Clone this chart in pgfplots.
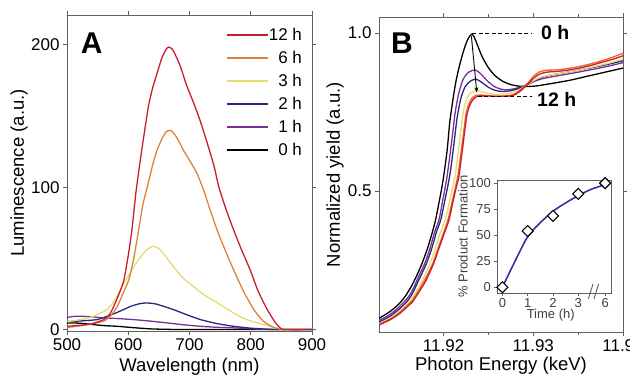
\documentclass[border=0pt]{standalone}
\usepackage{fontspec}
\setmainfont{Liberation Sans}
\usepackage{pgfplots}
\pgfplotsset{compat=1.18}
\usetikzlibrary{arrows.meta}
\definecolor{c12}{RGB}{200,30,45}
\definecolor{c6}{RGB}{218,132,58}
\definecolor{c3}{RGB}{228,220,110}
\definecolor{c2}{RGB}{40,40,125}
\definecolor{c1}{RGB}{125,45,150}
\definecolor{c6b}{RGB}{238,95,40}
\definecolor{cfit}{RGB}{50,50,170}
\definecolor{axgray}{RGB}{95,95,95}
\pgfplotsset{
  every axis/.append style={
    scale only axis,
    tick align=outside,
    axis line style={axgray, line width=0.8pt},
    every tick/.style={axgray, line width=0.8pt},
    major tick length=4pt,
    minor tick length=3pt,
    /pgf/number format/assume math mode=true,
  },
}
\begin{document}
\begin{tikzpicture}[x=1pt,y=1pt]
\useasboundingbox (0,0) rectangle (630,376);
% ---------------- Panel A ----------------
\begin{axis}[
  at={(67pt,45pt)}, anchor=south west, width=245pt, height=316pt,
  xmin=500, xmax=900, ymin=-1, ymax=221,
  xtick={500,600,700,800,900}, ytick={0,100,200},
  tick label style={font=\fontsize{17}{20}\selectfont},
  label style={font=\fontsize{18.5}{22}\selectfont},
  xlabel={Wavelength (nm)}, ylabel={Luminescence (a.u.)},
  xlabel style={at={(axis description cs:0.5,-0.114)}, anchor=center},
  ylabel style={at={(axis description cs:-0.196,0.5)}, anchor=center},
  legend style={at={(axis description cs:0.961,0.958)}, anchor=north east,
    draw=none, fill=none, inner sep=0pt, outer sep=0pt,
    font=\fontsize{17}{20}\selectfont, row sep=9.8pt, column sep=0pt,
    nodes={inner sep=0.5pt, text height=12.2pt, text depth=0pt}},
  legend cell align=right, reverse legend,
  legend image code/.code={\draw[#1, line width=1.4pt] (0pt,0pt) -- (41pt,0pt);},
  every axis plot/.append style={line width=1.3pt, smooth, tension=0.3},
]
\addplot[black] coordinates {(500,4.6)(520,4.5)(543,3.5)(560,2.8)(582,2.3)(610,1.3)(636,0.5)(660,0.2)(700,0)(900,0)};
\addlegendentry{0 h}
\addplot[c1] coordinates {(500,8.5)(510,9.2)(522,9.4)(540,9)(555,8.4)(580,7.8)(609,7)(635,6)(663,4.7)(690,3.4)(718,2.3)(745,1.6)(772,1.2)(800,0.6)(830,0.1)(850,0)(900,0)};
\addlegendentry{1 h}
\addplot[c2] coordinates {(500,5.6)(520,6)(549,7)(570,10)(587,13)(605,16.5)(620,18.3)(631,18.7)(645,18)(660,16)(674,14)(695,10.5)(718,7)(745,4.2)(772,2.3)(800,1)(830,0.2)(850,0)(900,0)};
\addlegendentry{2 h}
\addplot[c3] coordinates {(500,5.6)(515,6.5)(533,8)(550,10.5)(565,14)(577,20)(587,28)(598,36)(609,44)(620,51)(630,56)(640,58.5)(650,57)(662,51)(674,44)(690,36)(707,30)(725,24)(745,19)(765,13.5)(783,9)(800,6)(821,3.5)(840,1.2)(855,0.2)(870,0)(900,0)};
\addlegendentry{3 h}
\addplot[c6] coordinates {(500,1.5)(520,2.5)(540,4)(560,6)(570,9)(582,16)(590,24)(601,35)(609,50)(617,70)(624,88)(631,100)(640,116)(647,126)(655,134)(662,139)(669,140)(676,137)(683,132)(690,126)(700,119)(712,110)(723,98)(733,85)(745,70)(758,56)(772,42)(788,27)(805,14)(820,6)(835,2)(848,0.3)(860,0)(900,0)};
\addlegendentry{6 h}
\addplot[c12] coordinates {(500,2.3)(520,3)(540,4)(560,7)(570,11)(576,16)(585,25)(593,35)(600,52)(606,70)(613,98)(622,126)(633,157)(640,170)(647,180)(655,191)(662,197)(666,198.5)(672,197)(678,192)(685,185)(695,172)(707,159)(718,146)(729,131)(740,115)(748,100)(760,84)(772,70)(785,56)(799,42)(812,27)(827,14)(840,5)(850,0.5)(860,0)(900,0)};
\addlegendentry{12 h}
\end{axis}
% ---------------- Panel B ----------------
\begin{axis}[
  at={(379pt,44pt)}, anchor=south west, width=244pt, height=315pt,
  xmin=11.9128, xmax=11.9400, ymin=0.0538, ymax=1.0506,
  xtick={11.92,11.93,11.94}, xticklabels={11.92,11.93,11.94},
  minor x tick num=1,
  ytick={0.5,1.0}, yticklabels={0.5,1.0},
  scaled x ticks=false,
  tick label style={font=\fontsize{17}{20}\selectfont},
  label style={font=\fontsize{18.5}{22}\selectfont},
  xlabel={Photon Energy (keV)}, ylabel={Normalized yield (a.u.)},
  xlabel style={at={(axis description cs:0.5,-0.108)}, anchor=center},
  ylabel style={at={(axis description cs:-0.180,0.5)}, anchor=center},
  every axis plot/.append style={line width=1.3pt, smooth, tension=0.45},
]
\addplot[black] coordinates {(11.9128,0.097)(11.9140,0.118)(11.9150,0.142)(11.9157,0.166)(11.9164,0.198)(11.9170,0.232)(11.9176,0.271)(11.9182,0.318)(11.9187,0.365)(11.9191,0.408)(11.9195,0.465)(11.9198,0.51)(11.9200,0.545)(11.9204,0.63)(11.9207,0.72)(11.9211,0.80)(11.9214,0.85)(11.9218,0.90)(11.9223,0.95)(11.9227,0.98)(11.9231,0.996)(11.9234,0.988)(11.9238,0.96)(11.9243,0.925)(11.9250,0.89)(11.9257,0.866)(11.9266,0.847)(11.9276,0.836)(11.9287,0.831)(11.9302,0.832)(11.9320,0.840)(11.9340,0.850)(11.9360,0.863)(11.9380,0.876)(11.9400,0.889)};
\addplot[c1] coordinates {(11.9128,0.090)(11.9140,0.109)(11.9150,0.132)(11.9160,0.162)(11.9166,0.190)(11.9172,0.228)(11.9179,0.271)(11.9185,0.32)(11.9190,0.37)(11.9195,0.41)(11.9199,0.47)(11.9203,0.53)(11.9206,0.59)(11.9210,0.68)(11.9213,0.75)(11.9217,0.81)(11.9222,0.855)(11.9228,0.876)(11.9235,0.883)(11.9241,0.872)(11.9249,0.848)(11.9257,0.830)(11.9266,0.821)(11.9276,0.822)(11.9287,0.83)(11.9297,0.842)(11.9307,0.853)(11.9318,0.86)(11.9330,0.866)(11.9350,0.876)(11.9370,0.887)(11.9385,0.896)(11.9400,0.906)};
\addplot[c2] coordinates {(11.9128,0.085)(11.9140,0.103)(11.9150,0.125)(11.9160,0.153)(11.9166,0.180)(11.9173,0.222)(11.9181,0.271)(11.9187,0.32)(11.9192,0.37)(11.9197,0.41)(11.9201,0.465)(11.9205,0.52)(11.9208,0.57)(11.9212,0.66)(11.9215,0.73)(11.9219,0.79)(11.9224,0.83)(11.9230,0.848)(11.9236,0.854)(11.9242,0.845)(11.9250,0.828)(11.9258,0.818)(11.9266,0.815)(11.9276,0.818)(11.9287,0.828)(11.9297,0.842)(11.9307,0.857)(11.9318,0.866)(11.9330,0.872)(11.9350,0.882)(11.9370,0.893)(11.9385,0.902)(11.9400,0.912)};
\addplot[c3] coordinates {(11.9128,0.080)(11.9140,0.097)(11.9150,0.117)(11.9160,0.145)(11.9168,0.175)(11.9176,0.215)(11.9185,0.271)(11.9191,0.32)(11.9196,0.365)(11.9202,0.41)(11.9206,0.46)(11.9210,0.51)(11.9213,0.55)(11.9217,0.64)(11.9220,0.71)(11.9223,0.765)(11.9227,0.80)(11.9232,0.814)(11.9238,0.818)(11.9245,0.812)(11.9255,0.806)(11.9265,0.806)(11.9275,0.81)(11.9285,0.822)(11.9295,0.84)(11.9305,0.856)(11.9315,0.865)(11.9330,0.872)(11.9350,0.882)(11.9370,0.895)(11.9385,0.905)(11.9400,0.918)};
\addplot[c6b] coordinates {(11.9128,0.078)(11.9140,0.094)(11.9150,0.113)(11.9160,0.139)(11.9165,0.153)(11.9172,0.184)(11.9180,0.224)(11.9188,0.271)(11.9194,0.32)(11.9199,0.36)(11.9205,0.41)(11.9209,0.46)(11.9213,0.51)(11.9216,0.55)(11.9220,0.635)(11.9223,0.70)(11.9225,0.745)(11.9228,0.775)(11.9232,0.795)(11.9237,0.803)(11.9245,0.803)(11.9255,0.80)(11.9265,0.80)(11.9275,0.803)(11.9281,0.81)(11.9287,0.823)(11.9294,0.842)(11.9300,0.862)(11.9307,0.877)(11.9315,0.882)(11.9325,0.883)(11.9335,0.886)(11.9350,0.893)(11.9365,0.903)(11.9380,0.915)(11.9390,0.925)(11.9400,0.936)};
\addplot[c12] coordinates {(11.9128,0.076)(11.9140,0.092)(11.9150,0.110)(11.9160,0.135)(11.9165,0.148)(11.9172,0.178)(11.9180,0.215)(11.9189,0.271)(11.9195,0.32)(11.9200,0.36)(11.9206,0.408)(11.9210,0.46)(11.9214,0.51)(11.9217,0.545)(11.9221,0.63)(11.9224,0.70)(11.9226,0.74)(11.9229,0.77)(11.9233,0.79)(11.9238,0.80)(11.9245,0.801)(11.9255,0.80)(11.9265,0.80)(11.9275,0.801)(11.9281,0.807)(11.9287,0.82)(11.9294,0.838)(11.9300,0.856)(11.9307,0.870)(11.9315,0.876)(11.9325,0.878)(11.9335,0.881)(11.9350,0.888)(11.9365,0.898)(11.9380,0.91)(11.9390,0.918)(11.9400,0.928)};
\draw[black, line width=1pt, dash pattern=on 4pt off 2.5pt] (axis cs:11.9232,0.998) -- (axis cs:11.9299,0.998);
\draw[black, line width=1pt, dash pattern=on 4pt off 2.5pt] (axis cs:11.9238,0.799) -- (axis cs:11.9299,0.799);
\draw[black, line width=0.9pt, -{Stealth[length=5pt,width=4pt]}] (axis cs:11.9231,0.99) -- (axis cs:11.9237,0.812);
\node[font=\fontsize{19.5}{22}\bfseries] at (axis cs:11.93244,1.0) {0 h};
\node[font=\fontsize{19.5}{22}\bfseries] at (axis cs:11.93261,0.789) {12 h};
\end{axis}
% ---------------- Inset ----------------
\begin{axis}[
  at={(497.3pt,83pt)}, anchor=south west, width=114.4pt, height=113pt,
  xmin=-0.2, xmax=4.32, ymin=-5.5, ymax=103,
  xtick={0,1,2,3,4.06}, xticklabels={0,1,2,3,6},
  ytick={0,25,50,75,100},
  xtick pos=left, ytick pos=left,
  major tick length=3pt,
  tick label style={font=\fontsize{13}{15}\selectfont, text=black!75},
  label style={font=\fontsize{13}{15}\selectfont, text=black!75},
  xticklabel style={yshift=1pt},
  xlabel={Time (h)}, ylabel={\% Product Formation},
  xlabel style={at={(axis description cs:0.467,-0.20)}, anchor=center},
  ylabel style={at={(axis description cs:-0.30,0.5)}, anchor=center},
  clip=false,
]
\addplot[cfit, line width=1.6pt, smooth] coordinates {(0,0)(0.5,25)(1,48.5)(1.5,62)(2,73)(2.5,81)(3,88)(3.5,94)(4.06,98.5)};
\addplot[only marks, mark=square*, mark size=3.9pt, mark options={rotate=45, fill=white, draw=black, line width=1.1pt}] coordinates {(0,0)(1,54)(2,68.6)(3,89.7)(4.06,100)};
\draw[axgray, line width=0.9pt] (axis cs:3.40,-11) -- (axis cs:3.58,3);
\draw[axgray, line width=0.9pt] (axis cs:3.62,-11) -- (axis cs:3.80,3);
\end{axis}
\node[font=\fontsize{30}{30}\bfseries] at (91.7,333) {A};
\node[font=\fontsize{30}{30}\bfseries] at (402,333) {B};
\end{tikzpicture}
\end{document}
